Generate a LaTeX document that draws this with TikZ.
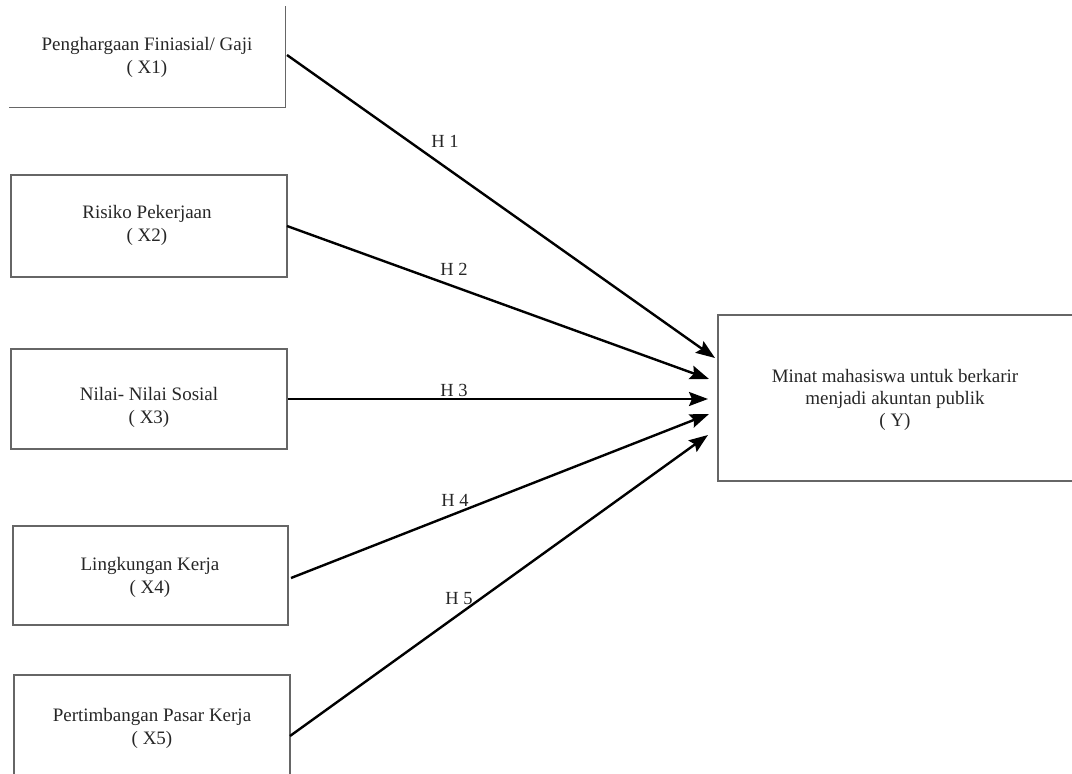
\documentclass[tikz,border=0pt]{standalone}
\usepackage{fontspec}
\setmainfont{Liberation Serif}
\usetikzlibrary{arrows.meta}
\begin{document}
\begin{tikzpicture}[x=1pt,y=-1pt,
  varbox/.style={draw=black!60, line width=1.2pt, inner sep=0pt},
  vartext/.style={align=center, inner sep=0pt, font=\fontsize{19}{23}\selectfont, text=black!85},
  link/.style={line width=2.4pt, -{Stealth[length=19pt,width=14pt,inset=3pt]}},
  hlabel/.style={font=\fontsize{18.5}{21}\selectfont, text=black!85}]
\useasboundingbox (0,0) rectangle (1072,774);
% X1 box (top and left edges lie outside the picture)
\node[varbox, draw=none, minimum width=275pt, minimum height=100pt] (x1) at (147.5,57) {};
\draw[draw=black!60, line width=1.2pt] (x1.north east) -- (x1.south east) -- (x1.south west);
\node[varbox, minimum width=276pt, minimum height=102pt] (x2) at (149,226) {};
\node[varbox, minimum width=276pt, minimum height=100pt] (x3) at (149,399) {};
\node[varbox, minimum width=275pt, minimum height=99pt] (x4) at (150.5,575.5) {};
\node[varbox, minimum width=276pt, minimum height=120pt] (x5) at (152,735) {};
\node[varbox, minimum width=356pt, minimum height=166pt] (y) at (896,398) {};
% texts
\node[vartext] (l1) at (147,57) {Penghargaan Finiasial/ Gaji\\( X1)};
\node[vartext] (l2) at (147,225) {Risiko Pekerjaan\\( X2)};
\node[vartext] (l3) at (149,407) {Nilai- Nilai Sosial\\( X3)};
\node[vartext] (l4) at (150,577.5) {Lingkungan Kerja\\( X4)};
\node[vartext] (l5) at (152,728) {Pertimbangan Pasar Kerja\\( X5)};
\node[vartext, font=\fontsize{19}{22}\selectfont] (ly) at (895,400) {Minat mahasiswa untuk berkarir\\menjadi akuntan publik\\( Y)};
% anchor points on the boxes
\coordinate (s1) at (287,55);
\coordinate (s2) at (287,226);
\coordinate (s4) at (291,578);
\coordinate (s5) at (290,736);
\coordinate (t1) at (715,358);
\coordinate (t2) at (709,379);
\coordinate (t3) at (708,399);
\coordinate (t4) at (709,414);
\coordinate (t5) at (708,435);
\draw[link] (s1) -- (t1);
\draw[link] (s2) -- (t2);
\draw[link] (x3.east) -- (t3);
\draw[link] (s4) -- (t4);
\draw[link] (s5) -- (t5);
\node[hlabel] (h1) at (445,141) {H 1};
\node[hlabel] (h2) at (454,269) {H 2};
\node[hlabel] (h3) at (454,390) {H 3};
\node[hlabel] (h4) at (455,500) {H 4};
\node[hlabel] (h5) at (459,599) {H 5};
\end{tikzpicture}
\end{document}
